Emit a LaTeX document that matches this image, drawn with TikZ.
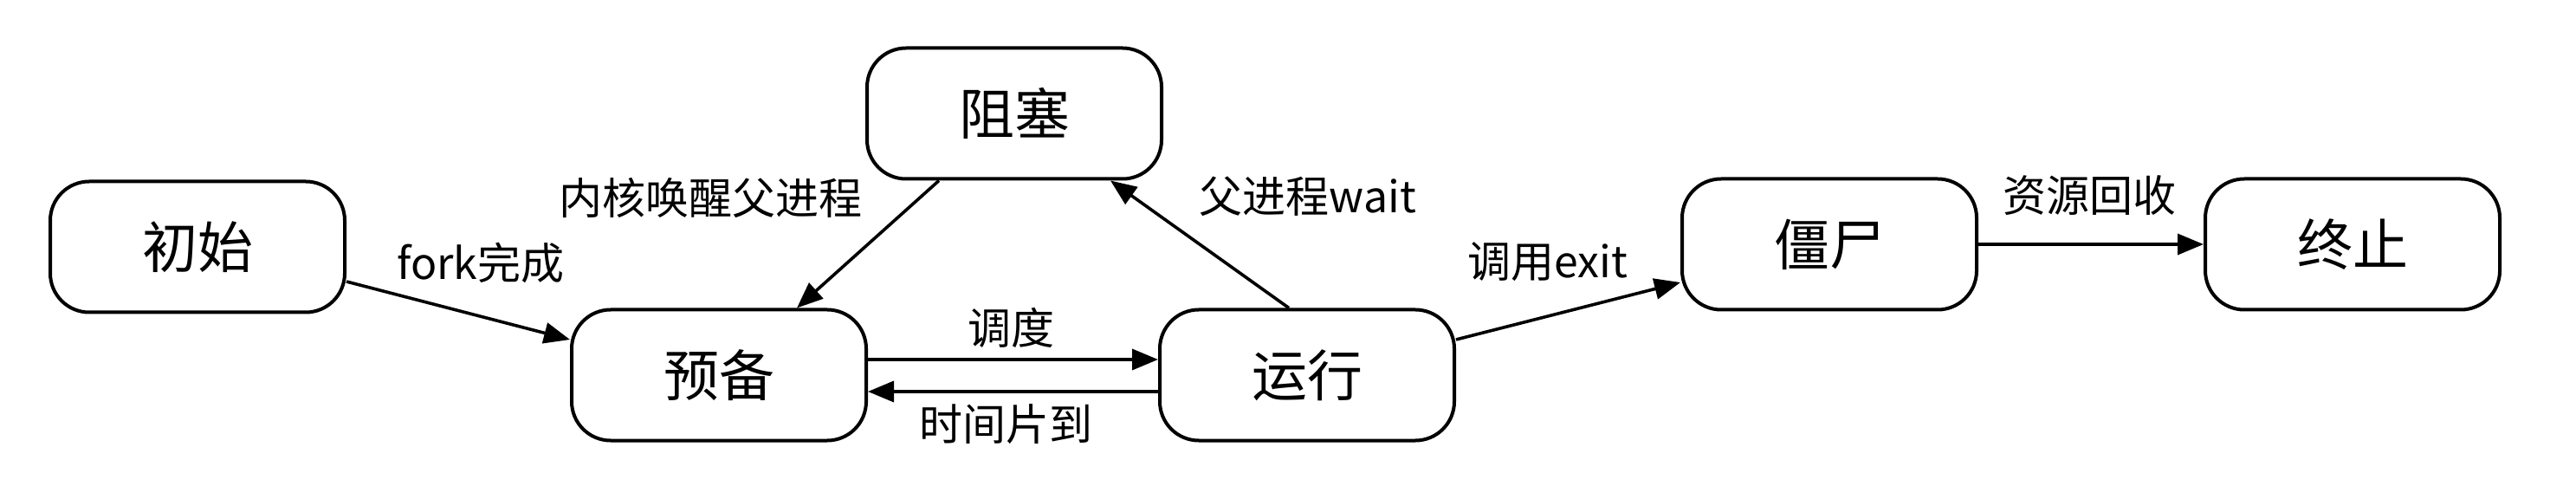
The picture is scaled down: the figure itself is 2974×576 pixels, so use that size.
\documentclass[tikz,border=0pt]{standalone}
\usepackage{fontspec}
\setmainfont{Noto Sans CJK SC}
\usetikzlibrary{arrows.meta}
\tikzset{
  state/.style={draw, line width=1pt, rounded corners=11.25pt, minimum width=85pt, minimum height=37.75pt, inner sep=0pt, font=\fontsize{16}{18}\selectfont},
  lbl/.style={inner sep=0pt, font=\fontsize{12.5}{14}\selectfont},
  arr/.style={line width=0.9pt, -{Triangle[length=7.5pt,width=6pt]}}
}
\begin{document}
\begin{tikzpicture}[x=0.25pt,y=-0.25pt]
\useasboundingbox (0,0) rectangle (2974,576);
\node[state] (init) at (228,285) {初始};
\node[state] (ready) at (830,433) {预备};
\node[state] (blocked) at (1171,131) {阻塞};
\node[state] (run) at (1509,433) {运行};
\node[state] (zombie) at (2112,282) {僵尸};
\node[state] (term) at (2716,282) {终止};

\draw[arr] ([yshift=-10pt]init.east) -- ([yshift=10.25pt]ready.west);
\draw[arr] ([xshift=-21.75pt]blocked.south) -- ([xshift=22.5pt]ready.north);
\draw[arr] ([xshift=-5.25pt]run.north) -- ([xshift=27.75pt]blocked.south);
\draw[arr] ([yshift=4.5pt]ready.east) -- ([yshift=4.5pt]run.west);
\draw[arr] ([yshift=-4.75pt]run.west) -- ([yshift=-4.75pt]ready.east);
\draw[arr] ([yshift=10.25pt]run.east) -- ([yshift=-11pt]zombie.west);
\draw[arr] (zombie.east) -- (term.west);

\node[lbl] (l1) at (555,303) {fork完成};
\node[lbl] (l2) at (820,228) {内核唤醒父进程};
\node[lbl] (l3) at (1510,227) {父进程wait};
\node[lbl] (l4) at (1167,378) {调度};
\node[lbl] (l5) at (1161,490) {时间片到};
\node[lbl] (l6) at (1787,302) {调用exit};
\node[lbl] (l7) at (2412,226) {资源回收};
\end{tikzpicture}
\end{document}
